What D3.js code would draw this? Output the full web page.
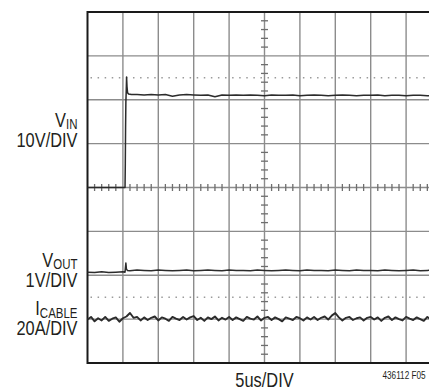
<!DOCTYPE html>
<html>
<head>
<meta charset="utf-8">
<script src="https://cdn.jsdelivr.net/npm/d3@7"></script>
<style>
  body { margin: 0; background: #fff; }
  svg { display: block; }
  text { font-family: "Liberation Sans", Arial, sans-serif; fill: #231f20; }
</style>
</head>
<body>
<svg width="429" height="389"></svg>
<script>
// time axis: 5us/DIV, 10 divisions; vertical in divisions (-4..4)
const timeDivs = d3.range(0, 55, 5);
const levelDivs = d3.range(-4, 5, 1);
const markerDivs = [2.5, -2.5];

// VIN trace (div, 10V/DIV)
const vinT = [0, 5.3, 5.34, 5.38, 5.42, 5.47, 5.52, 5.58, 5.66, 5.8, 6.2, 7, 8, 9, 10, 11, 12, 13, 14, 15, 16, 17, 18, 19, 20, 21, 22, 23, 24, 25, 26, 27, 28, 29, 30, 31, 32, 33, 34, 35, 36, 37, 38, 39, 40, 41, 42, 43, 44, 45, 46, 47, 48, 49, 50];
const vinV = [0, 0, 0.55, 1.4, 1.95, 2.2, 2.52, 2.3, 2.16, 2.13, 2.12, 2.12, 2.11, 2.12, 2.11, 2.12, 2.08, 2.11, 2.12, 2.11, 2.10, 2.11, 2.07, 2.11, 2.10, 2.11, 2.10, 2.11, 2.10, 2.09, 2.11, 2.10, 2.10, 2.11, 2.09, 2.10, 2.11, 2.10, 2.09, 2.10, 2.11, 2.10, 2.09, 2.10, 2.10, 2.11, 2.09, 2.10, 2.10, 2.09, 2.10, 2.10, 2.09, 2.10, 2.10];

// VOUT trace (div, 1V/DIV)
const voutT = [0, 1, 2, 3, 4, 5, 5.3, 5.42, 5.5, 5.65, 6, 7, 8, 9, 10, 11, 12, 13, 14, 15, 16, 17, 18, 19, 20, 21, 22, 23, 24, 25, 26, 27, 28, 29, 30, 31, 32, 33, 34, 35, 36, 37, 38, 39, 40, 41, 42, 43, 44, 45, 46, 47, 48, 49, 50];
const voutV = [-1.93, -1.94, -1.92, -1.94, -1.93, -1.92, -1.93, -1.72, -1.86, -1.89, -1.90, -1.88, -1.89, -1.90, -1.88, -1.89, -1.90, -1.89, -1.88, -1.90, -1.89, -1.88, -1.89, -1.90, -1.88, -1.89, -1.89, -1.90, -1.88, -1.89, -1.90, -1.89, -1.88, -1.89, -1.90, -1.88, -1.89, -1.89, -1.90, -1.88, -1.89, -1.90, -1.88, -1.89, -1.89, -1.90, -1.88, -1.89, -1.90, -1.89, -1.88, -1.90, -1.89, -1.88, -1.89];

// ICABLE trace (div, 20A/DIV), sampled every 0.5us
const icableV = [
  -3.01, -2.95, -3.05, -2.98, -3.03, -2.95, -3.04, -2.99, -2.96, -3.06,
  -2.98, -2.94, -2.86, -2.97, -2.95, -3.03, -2.96, -3.02, -2.97, -2.94,
  -3.03, -2.96, -2.99, -3.04, -2.95, -2.99, -3.02, -2.95, -3.01, -2.96,
  -2.93, -3.02, -2.97, -3.04, -2.96, -3.00, -2.94, -3.03, -2.97, -3.01,
  -2.95, -3.02, -2.96, -3.00, -3.04, -2.95, -2.99, -3.01, -2.94, -3.03,
  -2.97, -2.95, -3.02, -2.96, -3.00, -3.05, -2.96, -2.99, -3.02, -2.95,
  -2.98, -3.03, -2.96, -3.01, -2.95, -3.02, -2.97, -2.94, -3.01, -2.92,
  -2.86, -2.96, -3.03, -2.97, -2.95, -3.02, -2.98, -2.96, -3.03, -2.97,
  -2.95, -3.01, -2.96, -3.04, -2.97, -2.94, -3.02, -2.96, -3.00, -3.03,
  -2.95, -2.99, -3.02, -2.96, -3.00, -3.04, -2.95, -3.01, -2.97, -2.96,
  -2.99
];

const labels = [
  { main: "V", sub: "IN", scale: "10V/DIV", y: 126.7 },
  { main: "V", sub: "OUT", scale: "1V/DIV", y: 266.7 },
  { main: "I", sub: "CABLE", scale: "20A/DIV", y: 315 }
];
const xLabel = "5us/DIV";
const figId = "436112 F05";

const svg = d3.select("svg");
const x = d3.scaleLinear().domain([0, 50]).range([87.5, 441.5]);
const y = d3.scaleLinear().domain([-4, 4]).range([363, 12]);

const grid = svg.append("g").attr("stroke", "#8c8c8c").attr("stroke-width", 1.4);
grid.selectAll("line.v")
  .data(timeDivs.slice(1, -1))
  .join("line")
  .attr("class", "v")
  .attr("x1", d => x(d)).attr("x2", d => x(d))
  .attr("y1", y(4)).attr("y2", y(-4));
grid.selectAll("line.h")
  .data(levelDivs.slice(1, -1))
  .join("line")
  .attr("class", "h")
  .attr("x1", x(0)).attr("x2", x(50))
  .attr("y1", d => y(d)).attr("y2", d => y(d));

// minor ticks on the centre cross
const ticks = svg.append("g").attr("stroke", "#6e6e6e").attr("stroke-width", 1.3);
ticks.selectAll("line.tx")
  .data(d3.range(1, 50).filter(d => d % 5 !== 0))
  .join("line")
  .attr("class", "tx")
  .attr("x1", d => x(d)).attr("x2", d => x(d))
  .attr("y1", y(0) - 3.5).attr("y2", y(0) + 3.5);
ticks.selectAll("line.ty")
  .data(d3.range(-20, 21).filter(d => d % 5 !== 0).map(d => d / 5))
  .join("line")
  .attr("class", "ty")
  .attr("x1", x(25) - 3.5).attr("x2", x(25) + 3.5)
  .attr("y1", d => y(d)).attr("y2", d => y(d));

svg.append("g")
  .selectAll("line")
  .data(markerDivs)
  .join("line")
  .attr("x1", x(0) + 3).attr("x2", x(50))
  .attr("y1", d => y(d)).attr("y2", d => y(d))
  .attr("stroke", "#9a9a9a")
  .attr("stroke-width", 1.4)
  .attr("stroke-dasharray", "1.5,5.58");

// frame
svg.append("rect")
  .attr("x", x(0)).attr("y", y(4))
  .attr("width", x(50) - x(0)).attr("height", y(-4) - y(4))
  .attr("fill", "none")
  .attr("stroke", "#1a1a1a")
  .attr("stroke-width", 2);

const line = d3.line().x(d => x(d[0])).y(d => y(d[1]));
const traces = [
  { pts: d3.zip(vinT, vinV), w: 1.5 },
  { pts: d3.zip(voutT, voutV), w: 1.5 },
  { pts: icableV.map((v, i) => [i * 0.5, v]), w: 1.9 }
];
svg.append("g")
  .attr("fill", "none")
  .attr("stroke", "#2b2b2b")
  .attr("stroke-linejoin", "round")
  .selectAll("path")
  .data(traces)
  .join("path")
  .attr("stroke-width", d => d.w)
  .attr("d", d => line(d.pts));

// condensed lettering: squeeze Liberation Sans horizontally
const squeeze = 0.82;
const lab = svg.append("g").attr("text-anchor", "end");
labels.forEach(l => {
  const t = lab.append("text")
    .attr("transform", `translate(77.5,${l.y}) scale(${squeeze},1)`)
    .attr("font-size", 20);
  t.append("tspan").text(l.main);
  t.append("tspan").attr("font-size", 14).attr("dy", 2.6).text(l.sub);
  lab.append("text")
    .attr("transform", `translate(77.5,${l.y + 20}) scale(${squeeze},1)`)
    .attr("font-size", 20)
    .text(l.scale);
});

svg.append("text")
  .attr("transform", `translate(${x(25)},386.5) scale(${squeeze},1)`)
  .attr("text-anchor", "middle")
  .attr("font-size", 20)
  .text(xLabel);

svg.append("text")
  .attr("transform", `translate(382.5,378.5) scale(${squeeze},1)`)
  .attr("font-size", 10)
  .text(figId);
</script>
</body>
</html>
